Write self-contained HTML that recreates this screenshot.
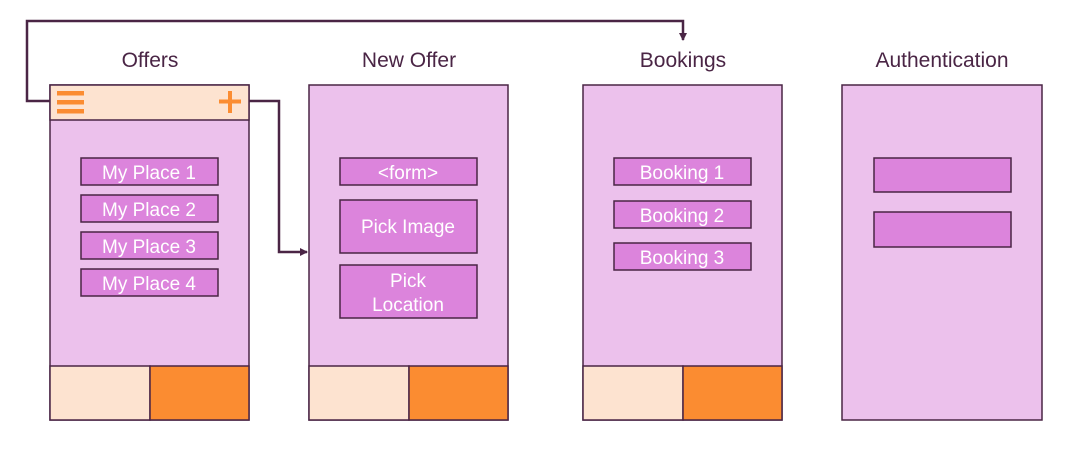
<!DOCTYPE html>
<html><head><meta charset="utf-8"><style>
html,body{margin:0;padding:0;background:#fff;}
svg{display:block;font-family:"Liberation Sans",sans-serif;}
</style></head><body>
<svg width="1069" height="455" viewBox="0 0 1069 455">
<defs><marker id="ah" markerWidth="8" markerHeight="8" refX="7" refY="4" orient="auto" markerUnits="userSpaceOnUse"><path d="M0,0 L8,4 L0,8 Z" fill="#4a2545"/></marker></defs>
<g fill="none" stroke="#4a2545" stroke-width="2.5">
<path d="M50,101 H27 V21 H683 V40" marker-end="url(#ah)"/>
<path d="M249,101 H279 V252 H307" marker-end="url(#ah)"/>
</g>
<g font-size="21" fill="#4a2545" text-anchor="middle">
<text x="150" y="67">Offers</text>
<text x="409" y="67">New Offer</text>
<text x="683" y="67">Bookings</text>
<text x="942" y="67">Authentication</text>
</g>
<g stroke="#4a2545" stroke-width="1.5">
<rect x="50" y="85" width="199" height="335" fill="#ecc1ec"/>
<rect x="50" y="85" width="199" height="35" fill="#fde3d0"/>
<rect x="50" y="366" width="100" height="54" fill="#fde3d0"/>
<rect x="150" y="366" width="99" height="54" fill="#fb8c31"/>
<rect x="309" y="85" width="199" height="335" fill="#ecc1ec"/>
<rect x="309" y="366" width="100" height="54" fill="#fde3d0"/>
<rect x="409" y="366" width="99" height="54" fill="#fb8c31"/>
<rect x="583" y="85" width="199" height="335" fill="#ecc1ec"/>
<rect x="583" y="366" width="100" height="54" fill="#fde3d0"/>
<rect x="683" y="366" width="99" height="54" fill="#fb8c31"/>
<rect x="842" y="85" width="200" height="335" fill="#ecc1ec"/>
<g fill="#dc84dc">
<rect x="81" y="158" width="137" height="27"/>
<rect x="81" y="195" width="137" height="27"/>
<rect x="81" y="232" width="137" height="27"/>
<rect x="81" y="269" width="137" height="27"/>
<rect x="340" y="158" width="137" height="27"/>
<rect x="340" y="200" width="137" height="53"/>
<rect x="340" y="265" width="137" height="53"/>
<rect x="614" y="158" width="137" height="27"/>
<rect x="614" y="201" width="137" height="27"/>
<rect x="614" y="243" width="137" height="27"/>
<rect x="874" y="158" width="137" height="34"/>
<rect x="874" y="212" width="137" height="35"/>
</g>
</g>
<g fill="#fb8c31">
<rect x="57" y="91" width="27" height="4.5"/><rect x="57" y="100" width="27" height="4.5"/><rect x="57" y="109" width="27" height="4.5"/>
</g>
<g fill="#fb8c31">
<rect x="219" y="99.5" width="22" height="4"/><rect x="228" y="91" width="4" height="22"/>
</g>
<g font-size="19" fill="#fff" text-anchor="middle">
<text x="149" y="179">My Place 1</text>
<text x="149" y="216">My Place 2</text>
<text x="149" y="253">My Place 3</text>
<text x="149" y="290">My Place 4</text>
<text x="408" y="179">&lt;form&gt;</text>
<text x="408" y="233">Pick Image</text>
<text x="408" y="287">Pick</text>
<text x="408" y="311">Location</text>
<text x="682" y="179">Booking 1</text>
<text x="682" y="222">Booking 2</text>
<text x="682" y="264">Booking 3</text>
</g>
</svg>
</body></html>
